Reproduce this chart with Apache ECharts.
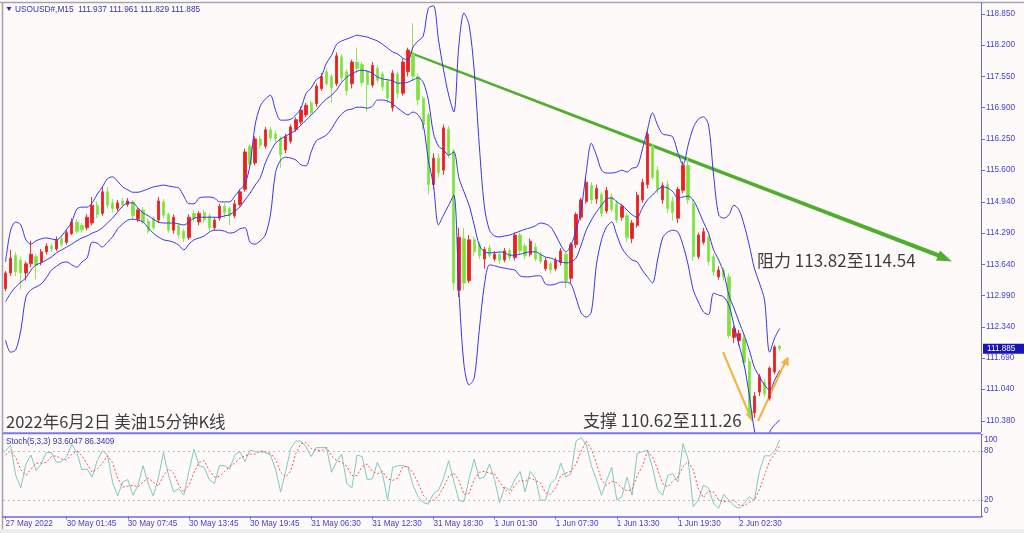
<!DOCTYPE html>
<html><head><meta charset="utf-8">
<script src="https://cdn.jsdelivr.net/npm/echarts@6.0.0/dist/echarts.min.js"></script>
<style>html,body{margin:0;padding:0;background:#fffafa;}#c{width:1024px;height:533px;}</style>
</head><body><div id="c"></div>
<script>
// ---------- data ----------
const tickLabels = ['27 May 2022','30 May 01:45','30 May 07:45','30 May 13:45','30 May 19:45','31 May 06:30','31 May 12:30','31 May 18:30','1 Jun 01:30','1 Jun 07:30','1 Jun 13:30','1 Jun 19:30','2 Jun 02:30'];
const priceTicks = [118.85,118.2,117.55,116.9,116.25,115.6,114.94,114.29,113.64,112.99,112.34,111.69,111.04,110.38];
const stochTicks = [100,80,20,0];
const symbolName = 'USOUSD#,M15';
const stochName = 'Stoch(5,3,3)';
const chartTitle = '2022年6月2日 美油15分钟K线';
const supportText = '支撑 110.62至111.26';
const resistText = '阻力 113.82至114.54';

// [open, close, low, high]
const ohlc = [
[113.13,113.46,113.08,113.50],[113.46,113.77,113.40,113.94],[113.83,113.48,113.40,113.90],[113.73,113.46,113.12,113.80],[113.46,113.65,113.30,113.70],
[113.65,113.85,113.58,114.13],[113.80,113.62,113.33,113.86],[113.69,113.90,113.62,113.96],[113.90,114.02,113.85,114.08],[114.02,113.96,113.90,114.08],
[113.96,114.15,113.92,114.22],[114.18,114.05,114.00,114.24],[114.10,114.30,114.05,114.35],[114.28,114.52,114.25,114.60],[114.52,114.33,114.28,114.58],
[114.45,114.36,114.30,114.50],[114.40,114.62,114.35,114.68],[114.50,114.87,114.45,115.04],[114.87,114.67,114.60,114.95],[114.70,115.15,114.65,115.25],
[115.15,114.87,114.80,115.25],[114.92,114.80,114.72,115.00],[114.80,114.92,114.75,114.98],[114.96,114.88,114.82,115.02],[114.88,114.96,114.84,115.02],
[114.94,114.65,114.58,114.98],[114.58,114.77,114.52,114.82],[114.77,114.52,114.48,114.83],[114.54,114.33,114.28,114.60],[114.60,114.40,114.35,114.65],
[114.56,114.96,114.50,115.04],[114.94,114.66,114.60,115.00],[114.68,114.35,114.30,114.72],[114.35,114.62,114.28,114.68],[114.45,114.25,114.18,114.50],
[114.33,114.18,114.10,114.38],[114.20,114.62,114.15,114.68],[114.70,114.60,114.52,114.78],[114.52,114.70,114.45,114.75],[114.72,114.56,114.50,114.78],
[114.65,114.40,114.32,114.70],[114.40,114.56,114.35,114.62],[114.60,114.85,114.55,114.90],[114.85,114.72,114.60,114.92],[114.80,114.65,114.45,114.85],
[114.65,114.90,114.60,114.98],[114.88,115.15,114.85,115.20],[115.20,115.98,115.15,116.05],[116.10,115.72,115.65,116.15],[115.75,116.25,115.70,116.30],
[116.25,116.12,116.05,116.32],[116.10,116.44,116.05,116.50],[116.44,116.27,116.20,116.50],[116.35,116.25,116.18,116.42],[116.25,115.92,115.65,116.30],
[116.02,116.30,115.95,116.36],[116.20,116.50,116.15,116.55],[116.45,116.65,116.40,116.70],[116.60,116.85,116.55,116.92],[116.75,116.95,116.70,117.00],
[117.00,116.80,116.75,117.05],[116.98,117.35,116.92,117.40],[117.30,117.55,117.25,117.62],[117.65,117.40,117.35,117.72],[117.55,117.32,117.00,117.60],
[117.40,117.98,117.35,118.05],[117.96,117.52,117.45,118.02],[117.65,117.25,117.15,117.70],[117.40,117.85,117.30,117.90],[117.85,117.72,117.62,118.15],
[117.80,117.42,117.35,117.85],[117.65,117.38,116.82,117.70],[117.37,117.78,117.32,117.85],[117.72,117.47,117.40,117.78],[117.60,117.33,117.25,117.65],
[117.45,117.10,117.00,117.50],[116.90,117.62,116.82,117.68],[117.60,117.20,117.10,117.65],[117.20,117.85,117.15,117.92],[117.65,118.10,117.55,118.15],
[118.00,117.55,117.45,118.66],[117.55,117.06,116.95,117.62],[117.10,116.55,116.45,117.15],[116.75,115.30,115.10,116.80],[115.30,115.85,115.20,115.95],
[115.85,115.55,115.45,115.95],[115.60,116.48,115.50,116.55],[116.45,115.92,115.85,116.52],[116.00,113.25,113.10,116.05],[113.10,114.20,112.96,114.40],
[114.18,113.25,113.10,114.40],[113.30,114.15,113.25,114.25],[114.15,113.90,113.82,114.22],[114.05,113.82,113.75,114.10],[113.75,113.95,113.55,114.00],
[113.98,113.82,113.78,114.05],[113.75,113.85,113.70,113.92],[113.85,113.72,113.65,113.90],[113.73,113.92,113.68,113.98],[113.92,113.78,113.72,113.98],
[113.78,114.25,113.72,114.30],[114.25,113.92,113.85,114.30],[114.02,113.82,113.75,114.08],[113.85,114.12,113.80,114.18],[114.00,113.75,113.70,114.08],
[113.85,113.70,113.65,113.90],[113.55,113.72,113.50,113.78],[113.65,113.52,113.45,113.70],[113.55,113.72,113.50,113.78],[113.68,113.92,113.62,113.98],
[113.85,113.30,113.15,113.92],[113.35,114.05,113.25,114.10],[114.05,114.68,113.98,114.72],[114.62,114.98,114.55,115.02],[114.95,115.35,114.90,115.42],
[115.28,114.98,114.90,115.35],[115.00,115.22,114.90,115.30],[115.10,114.70,114.62,115.15],[114.75,115.18,114.70,115.25],[115.05,114.78,114.72,115.12],
[114.90,114.56,114.50,114.98],[114.62,114.85,114.55,114.90],[114.65,114.20,114.10,114.70],[114.18,114.50,114.08,114.56],[114.45,115.08,114.40,115.15],
[114.98,115.35,114.92,115.42],[115.30,116.35,115.22,116.42],[116.10,115.45,115.40,116.15],[115.60,115.20,115.10,115.68],[114.98,115.28,114.90,115.35],
[115.30,114.80,114.70,115.38],[114.95,114.72,114.55,115.05],[114.60,115.20,114.50,115.25],[115.18,115.70,115.12,115.78],[115.70,114.98,114.90,115.85],
[114.90,113.80,113.72,115.00],[113.80,114.25,113.75,114.30],[114.10,114.32,114.05,114.40],[114.20,113.70,113.62,114.25],[113.80,113.48,113.40,113.85],
[113.38,113.52,113.32,113.60],[113.52,113.38,113.30,113.58],[113.38,112.15,112.10,113.45],[112.12,112.30,112.00,112.36],[112.05,112.20,111.95,112.28],
[112.10,111.60,111.52,112.18],[111.62,110.52,110.45,111.70],[110.55,110.90,110.44,110.98],[110.98,111.30,110.90,111.36],[111.18,110.94,110.88,111.25],
[110.85,111.48,110.80,111.52],[111.40,111.92,111.35,111.96],[111.937,111.885,111.829,111.961]
];

const bbUpper = [
113.69,114.35,114.52,114.46,114.15,114.06,114.13,114.17,114.19,114.17,
114.15,114.23,114.37,114.52,114.79,114.83,114.83,114.92,115.10,115.25,
115.42,115.46,115.37,115.25,115.19,115.14,115.14,115.17,115.21,115.25,
115.27,115.29,115.27,115.25,115.23,115.06,114.90,114.90,115.02,115.04,
115.04,115.02,114.94,114.94,114.94,115.06,115.19,115.31,115.71,116.54,
116.93,117.08,117.16,116.85,116.64,116.64,116.66,116.75,116.89,117.20,
117.31,117.48,117.56,117.83,117.99,118.22,118.29,118.33,118.37,118.41,
118.39,118.37,118.33,118.29,118.22,118.14,118.06,118.02,117.93,117.89,
118.16,118.29,118.39,118.97,119.02,118.31,117.68,117.16,116.81,118.20,
118.87,118.62,117.68,116.12,114.85,114.35,114.23,114.21,114.23,114.25,
114.29,114.33,114.37,114.40,114.44,114.50,114.48,114.42,114.25,114.04,
113.90,114.04,114.35,114.77,115.56,116.16,115.91,115.60,115.54,115.54,
115.56,115.60,115.56,115.64,115.67,116.02,116.43,116.79,116.54,116.35,
116.33,116.29,115.96,115.71,116.12,116.48,116.66,116.71,116.54,115.50,
114.67,114.60,114.67,114.87,114.77,114.46,114.04,113.56,113.25,112.90,
111.81,112.11,112.31
];
const bbMiddle = [
112.86,113.04,113.17,113.27,113.36,113.52,113.63,113.67,113.73,113.79,
113.88,113.94,114.00,114.06,114.13,114.19,114.23,114.29,114.33,114.40,
114.50,114.60,114.73,114.85,114.92,114.92,114.81,114.71,114.65,114.58,
114.52,114.50,114.50,114.50,114.48,114.46,114.52,114.60,114.62,114.62,
114.62,114.62,114.62,114.65,114.67,114.75,114.83,114.98,115.12,115.29,
115.44,115.75,115.98,116.16,116.25,116.31,116.37,116.43,116.54,116.64,
116.75,116.85,116.98,117.08,117.16,117.27,117.43,117.54,117.60,117.66,
117.68,117.66,117.62,117.54,117.50,117.48,117.46,117.41,117.41,117.43,
117.48,117.52,117.43,117.06,116.37,116.10,116.02,115.91,115.98,115.44,
115.15,114.87,114.46,114.04,113.90,113.88,113.88,113.90,113.88,113.83,
113.83,113.85,113.88,113.90,113.90,113.85,113.79,113.77,113.73,113.69,
113.67,113.69,113.77,114.04,114.35,114.56,114.73,114.87,115.00,115.02,
114.94,114.87,114.77,114.67,114.62,114.81,114.98,115.08,115.19,115.25,
115.23,115.15,115.02,115.04,115.06,114.98,114.77,114.52,114.29,113.94,
113.73,113.46,113.00,112.73,112.44,112.17,111.86,111.50,111.30,111.13,
111.02,111.23,111.44
];
const bbLower = [
112.06,111.81,111.86,112.27,112.96,113.11,113.17,113.23,113.36,113.52,
113.60,113.67,113.69,113.63,113.58,113.69,113.77,114.10,114.08,114.00,
114.10,114.21,114.38,114.48,114.56,114.58,114.56,114.52,114.40,114.29,
114.21,114.15,114.13,114.10,114.04,113.94,114.06,114.15,114.19,114.23,
114.31,114.35,114.35,114.33,114.29,114.31,114.38,114.40,114.10,114.06,
114.13,114.25,114.67,115.55,115.81,115.87,115.85,115.81,115.71,115.69,
115.98,116.21,116.27,116.33,116.46,116.64,116.77,116.85,116.87,116.91,
116.91,116.89,116.93,117.06,117.06,117.04,116.98,116.89,116.81,116.75,
116.81,116.75,116.54,115.81,115.29,114.46,114.67,114.87,115.08,113.11,
111.55,111.13,111.27,112.27,113.21,113.63,113.61,113.58,113.56,113.54,
113.52,113.40,113.38,113.38,113.40,113.40,113.23,113.21,113.23,113.27,
113.27,113.23,112.94,112.63,112.54,112.65,113.63,114.15,114.42,114.52,
114.25,113.98,113.83,113.73,113.69,113.52,113.38,113.25,113.73,114.19,
114.31,114.35,114.31,114.04,113.63,113.11,112.86,112.65,112.59,113.04,
113.00,112.96,112.79,112.38,111.96,111.55,110.92,110.19,109.78,109.78,
110.15,110.30,110.40
];

const stochK = [
80,87,50,35,64,75,56,64,78,78,
66,67,73,88,78,57,58,48,68,80,
75,42,25,42,45,26,38,62,40,25,
47,78,50,30,34,26,55,82,62,60,
45,40,62,62,58,75,79,67,81,79,
79,78,75,58,30,55,83,92,92,85,
73,84,84,84,54,67,76,40,35,75,
73,45,46,66,52,20,60,62,62,60,
38,24,17,15,28,32,47,68,43,20,
18,46,70,46,48,64,45,17,36,32,
45,55,30,55,47,20,20,40,46,65,
48,52,92,96,88,62,45,26,44,60,
20,24,48,26,77,79,81,60,33,26,
50,52,42,89,70,12,20,38,35,16,
10,27,20,13,10,16,24,20,55,74,
74,80,93.6047
];
const stochD = [
75,80,72,57,50,58,65,65,66,73,
74,70,69,76,80,74,64,54,58,65,
74,66,47,36,37,38,36,42,47,42,
37,50,58,53,38,30,38,54,66,68,
56,48,49,55,61,65,71,74,76,76,
80,79,77,70,54,48,56,77,89,90,
83,81,80,84,74,68,66,61,50,50,
61,64,55,52,55,46,44,47,61,61,
53,41,26,19,20,25,36,49,53,44,
27,28,45,54,55,53,52,42,33,28,
38,44,43,47,44,41,29,27,35,50,
53,55,64,80,92,82,65,44,38,43,
41,35,31,33,50,61,79,73,58,40,
36,43,48,61,67,57,34,23,31,30,
20,18,19,20,14,13,17,20,33,50,
68,76,86.3409
];

// ---------- layout / style ----------
const TOTAL_SLOTS = 192;      // bar slots across the plot (incl. empty right margin)
const LABEL_EVERY = 12;
const categories = Array.from({length: TOTAL_SLOTS}, (_, i) => String(i));
const PRICE_MIN = 110.15, PRICE_MAX = 119.079;
const axisBlue = '#6a6ae2';
const labelBlue = '#4343cc';
const headBlue = '#3232a6';
const ink = '#3d3d3d';
const cjk = '"Noto Sans CJK SC", "Noto Sans", sans-serif';
const mono = '"Liberation Sans", Arial, sans-serif';

const isTick = (idx) => idx % LABEL_EVERY === 0 && idx / LABEL_EVERY < tickLabels.length;

const chart = echarts.init(document.getElementById('c'), null, {renderer: 'canvas'});
const bandStyle = {color: '#3636ea', width: 1};

chart.setOption({
  backgroundColor: '#fffafa',
  animation: false,
  textStyle: {fontFamily: mono},
  grid: [
    {left: 3, top: 3, width: 978, height: 429},
    {left: 3, top: 434.5, width: 978, height: 82}
  ],
  xAxis: [
    {type: 'category', gridIndex: 0, data: categories, boundaryGap: true, show: false},
    {type: 'category', gridIndex: 1, data: categories, boundaryGap: true,
     axisLine: {show: true, lineStyle: {color: axisBlue, width: 1.5}},
     axisTick: {show: true, alignWithLabel: true, interval: isTick, length: 3, lineStyle: {color: axisBlue}},
     axisLabel: {show: true, interval: isTick, formatter: (v, i) => tickLabels[i / LABEL_EVERY],
       align: 'left', margin: 3, fontSize: 8.2, color: labelBlue, fontFamily: mono},
     splitLine: {show: false}}
  ],
  yAxis: [
    {type: 'value', gridIndex: 0, position: 'right', min: PRICE_MIN, max: PRICE_MAX,
     axisLine: {show: true, lineStyle: {color: axisBlue, width: 1}},
     axisTick: {show: true, length: 4, customValues: priceTicks, lineStyle: {color: axisBlue}},
     axisLabel: {customValues: priceTicks, formatter: v => v.toFixed(3), fontSize: 8.2, color: labelBlue, margin: 5, fontFamily: mono},
     splitLine: {show: false}},
    {type: 'value', gridIndex: 1, position: 'right', min: 0, max: 100,
     axisLine: {show: true, lineStyle: {color: axisBlue, width: 1}},
     axisTick: {show: true, length: 2, customValues: stochTicks, lineStyle: {color: axisBlue}},
     axisLabel: {customValues: stochTicks, margin: 3, fontSize: 8.2, color: labelBlue, fontFamily: mono,
       formatter: v => v === 100 ? '{t|100}' : (v === 0 ? '{b|0}' : String(v)),
       rich: {t: {padding: [11, 0, 0, 0], fontSize: 8.2, color: labelBlue, fontFamily: mono},
              b: {padding: [0, 0, 11, 0], fontSize: 8.2, color: labelBlue, fontFamily: mono}}},
     splitLine: {show: false}}
  ],
  series: [
    {type: 'candlestick', xAxisIndex: 0, yAxisIndex: 0, data: ohlc, barWidth: 2.8,
     itemStyle: {color: '#ea2020', color0: '#7fe23c', borderColor: '#ec3434', borderColor0: '#8ee855', borderWidth: 1}},
    {type: 'line', xAxisIndex: 0, yAxisIndex: 0, data: bbUpper, symbol: 'none', smooth: 0.3, lineStyle: bandStyle},
    {type: 'line', xAxisIndex: 0, yAxisIndex: 0, data: bbMiddle, symbol: 'none', smooth: 0.3, lineStyle: bandStyle},
    {type: 'line', xAxisIndex: 0, yAxisIndex: 0, data: bbLower, symbol: 'none', smooth: 0.3, lineStyle: bandStyle},
    {type: 'line', xAxisIndex: 1, yAxisIndex: 1, data: stochK, symbol: 'none', lineStyle: {color: '#7ccabe', width: 1},
     markLine: {silent: true, symbol: 'none', label: {show: false},
       lineStyle: {color: '#bdbdbd', type: [2, 3], width: 1},
       data: [{yAxis: 80}, {yAxis: 20}]}},
    {type: 'line', xAxisIndex: 1, yAxisIndex: 1, data: stochD, symbol: 'none', lineStyle: {color: '#ff4d4d', width: 1, type: [2, 2]}}
  ]
});

// ---------- annotations ----------
const last = ohlc[ohlc.length - 1];
const header = symbolName + '  ' + [last[0], last[3], last[2], last[1]].map(v => v.toFixed(3)).join(' ');
const stochHeader = stochName + ' ' + stochK[stochK.length - 1].toFixed(4) + ' ' + stochD[stochD.length - 1].toFixed(4);
const py = chart.convertToPixel({yAxisIndex: 0}, last[1]);

chart.setOption({
  graphic: [
    {type: 'rect', shape: {x: 0, y: 529, width: 1024, height: 4}, style: {fill: '#ececec'}, silent: true},
    {type: 'line', shape: {x1: 0, y1: 2.5, x2: 1024, y2: 2.5}, style: {stroke: '#a4a4b0', lineWidth: 1.6}, silent: true},
    {type: 'line', shape: {x1: 2.5, y1: 2, x2: 2.5, y2: 529}, style: {stroke: '#a4a4b0', lineWidth: 1.6}, silent: true},
    {type: 'line', shape: {x1: 3, y1: 433.3, x2: 981, y2: 433.3}, style: {stroke: '#7878e6', lineWidth: 2}, silent: true},
    // header
    {type: 'polygon', shape: {points: [[6.5, 7], [11.5, 7], [9, 11]]}, style: {fill: '#2a2a9a'}, silent: true},
    {type: 'text', x: 15, y: 9.5, style: {text: header, fontSize: 8.3, fontFamily: mono, fill: headBlue, verticalAlign: 'middle'}, silent: true},
    {type: 'text', x: 6, y: 442, style: {text: stochHeader, fontSize: 8.2, fontFamily: mono, fill: headBlue, verticalAlign: 'middle'}, silent: true},
    // trend line (tapered) + arrow head
    {type: 'polygon', shape: {points: [[408.4, 51.1], [940.8, 253.9], [939.2, 258.1], [407.6, 52.9]]}, style: {fill: '#4fae2e'}, silent: true},
    {type: 'polygon', shape: {points: [[952, 261.5], [936.0, 260.6], [940.0, 250.6]]}, style: {fill: '#4fae2e'}, silent: true},
    // orange V arrows
    {type: 'line', shape: {x1: 723, y1: 352, x2: 750, y2: 416}, style: {stroke: '#f4b23e', lineWidth: 2}, silent: true},
    {type: 'polygon', shape: {points: [[752.5, 422], [745.7, 414.1], [753.1, 411.0]]}, style: {fill: '#f4b23e'}, silent: true},
    {type: 'line', shape: {x1: 758, y1: 421, x2: 785.5, y2: 361.5}, style: {stroke: '#f4b23e', lineWidth: 2}, silent: true},
    {type: 'polygon', shape: {points: [[788.5, 356.5], [788.6, 366.2], [780.8, 362.6]]}, style: {fill: '#f4b23e'}, silent: true},
    // texts
    {type: 'text', x: 6, y: 422, style: {text: chartTitle, fontSize: 16.5, fontFamily: cjk, fill: ink, verticalAlign: 'middle'}, silent: true},
    {type: 'text', x: 583, y: 421, style: {text: supportText, fontSize: 17, fontFamily: cjk, fill: ink, verticalAlign: 'middle'}, silent: true},
    {type: 'text', x: 757, y: 261, style: {text: resistText, fontSize: 17, fontFamily: cjk, fill: ink, verticalAlign: 'middle'}, silent: true},
    // current price tag
    {type: 'rect', shape: {x: 983, y: py - 5, width: 41, height: 10}, style: {fill: '#1616b8'}, silent: true},
    {type: 'text', x: 987, y: py, style: {text: last[1].toFixed(3), fontSize: 8.2, fontFamily: mono, fill: '#ffffff', verticalAlign: 'middle'}, silent: true}
  ]
});
</script>
</body></html>
